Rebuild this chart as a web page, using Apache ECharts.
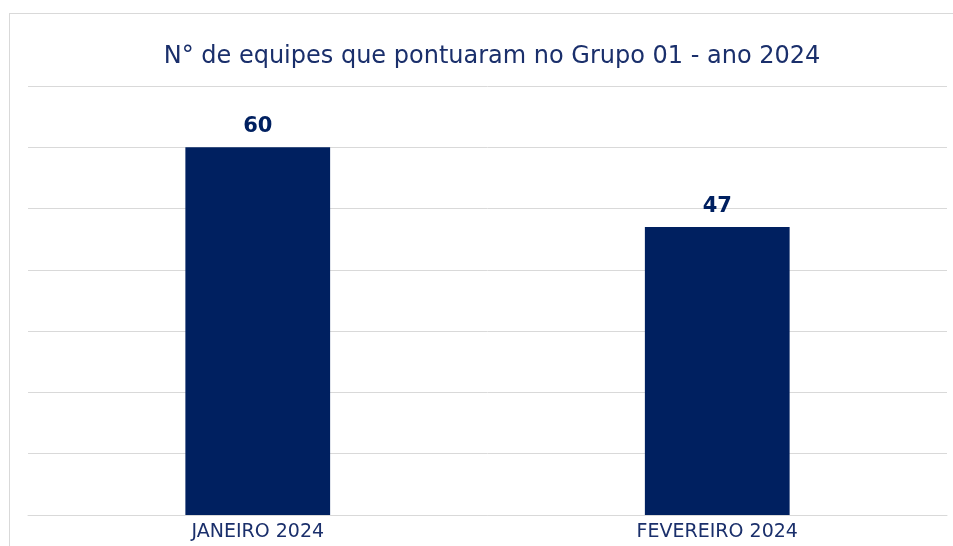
<!DOCTYPE html>
<html>
<head>
<meta charset="utf-8">
<script src="https://cdn.jsdelivr.net/npm/echarts@6/dist/echarts.min.js"></script>
<style>
  html, body { margin: 0; padding: 0; background: #fff; overflow: hidden; }
  #frame {
    position: absolute; left: 9px; top: 13px; width: 1000px; height: 600px;
    border: 1px solid #d9d9d9; box-sizing: border-box;
  }
  #chart { position: absolute; left: 0; top: 0; width: 953px; height: 546px; }
</style>
</head>
<body>
<div id="frame"></div>
<div id="chart"></div>
<script>
var categories = ["JANEIRO 2024", "FEVEREIRO 2024"];
var teams = [60, 47];
var titleText = "N° de equipes que pontuaram no Grupo 01 - ano 2024";

var font = "DejaVu Sans";
var chartDom = document.getElementById("chart");
var myChart = echarts.init(chartDom);
var option;

option = {
  animation: false,
  title: {
    text: titleText,
    left: 487,
    textAlign: "center",
    top: 40,
    textStyle: {
      color: "#1a2f6b",
      fontFamily: font,
      fontSize: 24,
      fontWeight: "normal",
    },
  },
  grid: { left: 28, right: 6, top: 86, bottom: 31 },
  xAxis: {
    type: "category",
    data: categories,
    axisLine: { lineStyle: { color: "#d9d9d9" } },
    axisTick: { show: false },
    axisLabel: {
      color: "#1a2f6b",
      fontFamily: font,
      fontSize: 19,
      margin: 8,
    },
  },
  yAxis: {
    type: "value",
    min: 0,
    max: 70,
    interval: 10,
    axisLabel: { show: false },
    axisLine: { show: false },
    axisTick: { show: false },
    splitLine: { lineStyle: { color: "#d9d9d9" } },
  },
  series: [
    {
      type: "bar",
      data: teams,
      barWidth: "31.5%",
      itemStyle: { color: "#002060" },
      label: {
        show: true,
        position: "top",
        distance: 10,
        color: "#002060",
        fontFamily: font,
        fontSize: 21,
        fontWeight: "bold",
      },
    },
  ],
};

option && myChart.setOption(option);
</script>
</body>
</html>
